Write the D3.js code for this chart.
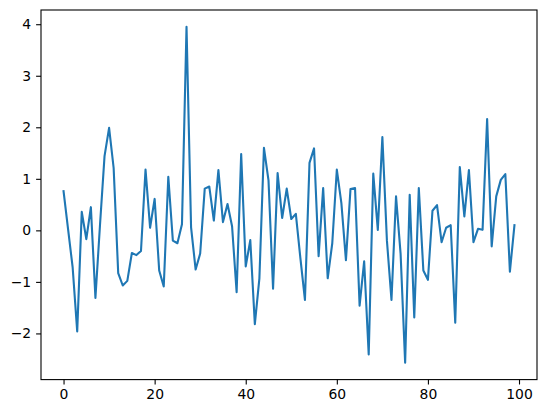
<!DOCTYPE html>
<html>
<head>
<meta charset="utf-8">
<script src="https://cdn.jsdelivr.net/npm/d3@7"></script>
<style>
  body { margin: 0; background: #fff; }
  svg { display: block; }
  .tick text { font-family: "DejaVu Sans", sans-serif; font-size: 13.9px; fill: #000; }
</style>
</head>
<body>
<svg id="chart" width="546" height="413"></svg>
<script>
// one random walk-ish series
const values = [
    0.76, 0.02, -0.72, -1.96, 0.36, -0.17, 0.45, -1.31, 0.1, 1.44,
    1.99, 1.21, -0.83, -1.07, -0.98, -0.44, -0.48, -0.4, 1.18, 0.05,
    0.61, -0.78, -1.09, 1.04, -0.2, -0.25, 0.12, 3.95, 0.06, -0.76,
    -0.45, 0.81, 0.85, 0.19, 1.17, 0.16, 0.51, 0.08, -1.2, 1.48,
    -0.7, -0.19, -1.82, -0.93, 1.6, 0.97, -1.13, 1.11, 0.24, 0.81,
    0.22, 0.32, -0.54, -1.35, 1.31, 1.59, -0.5, 0.82, -0.93, -0.25,
    1.18, 0.53, -0.58, 0.8, 0.82, -1.46, -0.6, -2.41, 1.1, 0.01,
    1.81, -0.2, -1.35, 0.66, -0.45, -2.57, 0.69, -1.69, 0.82, -0.78,
    -0.96, 0.38, 0.49, -0.23, 0.05, 0.1, -1.79, 1.23, 0.27, 1.17,
    -0.23, 0.03, 0.01, 2.16, -0.31, 0.66, 0.98, 1.09, -0.8, 0.1
]
const xTicks = [0, 20, 40, 60, 80, 100]
const yTicks = [-2, -1, 0, 1, 2, 3, 4]

const margin = {left: 41, top: 10, right: 9, bottom: 33.4}
const W = 546, H = 413
const w = W - margin.left - margin.right
const h = H - margin.top - margin.bottom

const svg = d3.select("#chart")
const g = svg.append("g").attr("transform", `translate(${margin.left},${margin.top})`)

// matplotlib style 5% padding on both axes
var pad = function(lo, hi) {
    const m = (hi - lo) * 0.05
    return [lo - m, hi + m]
}

const x = d3.scaleLinear()
    .domain(pad(0, values.length - 1))
    .range([0, w])

const y = d3.scaleLinear()
    .domain(pad(d3.min(values), d3.max(values)))
    .range([h, 0])

const fmt = (d) => String(d).replace("-", "\u2212")

g.append("g")
    .attr("transform", `translate(0,${h})`)
    .call(d3.axisBottom(x).tickValues(xTicks).tickFormat(fmt).tickSize(4.9).tickPadding(4.9))
    .call((a) => a.select(".domain").remove())

g.append("g")
    .call(d3.axisLeft(y).tickValues(yTicks).tickFormat(fmt).tickSize(4.9).tickPadding(4.9))
    .call((a) => a.select(".domain").remove())

g.selectAll(".tick line").attr("stroke", "#000").attr("stroke-width", 1.1)

g.append("path")
    .datum(values)
    .attr("fill", "none")
    .attr("stroke", "#1f77b4")
    .attr("stroke-width", 2.1)
    .attr("stroke-linejoin", "round")
    .attr("stroke-linecap", "square")
    .attr("d", d3.line()
        .x((d, i) => x(i))
        .y((d) => y(d)))

// axes frame on top
g.append("rect")
    .attr("width", w)
    .attr("height", h)
    .attr("fill", "none")
    .attr("stroke", "#000")
    .attr("stroke-width", 1.1)
</script>
</body>
</html>
